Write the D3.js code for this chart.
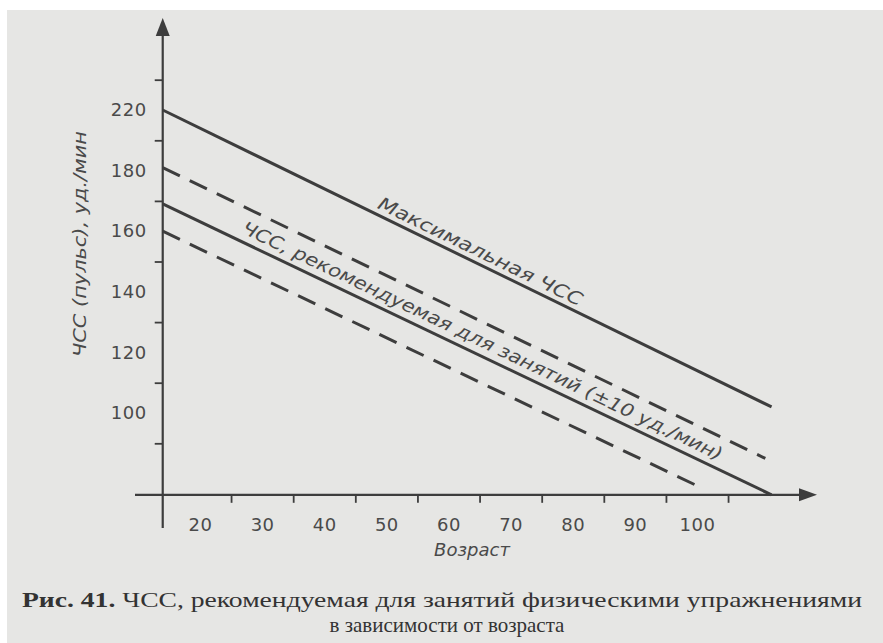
<!DOCTYPE html>
<html>
<head>
<meta charset="utf-8">
<script src="https://cdn.jsdelivr.net/npm/d3@7"></script>
<style>
  body { margin: 0; background: #fff; }
  text { fill: #4a4a4a; }
</style>
</head>
<body>
<svg width="883" height="643"></svg>
<script>
// ages printed under the axis and the small tick marks between them
const ageLabels = [20, 30, 40, 50, 60, 70, 80, 90, 100];
const ageTicks = [25, 35, 45, 55, 65, 75, 85, 95, 105];
// heart rate labels as printed (the book skips 200)
const hrLabelValues = [220, 200, 180, 160, 140, 120];
const hrLabels = ["220", "180", "160", "140", "120", "100"];
const hrTicks = [230, 210, 190, 170, 150, 130, 110];

// lines, [age, bpm]
const maxLine = [[14, 220], [112, 122]];
const upperLine = [[14, 201], [111, 105]];
const recLine = [[14, 189], [112, 93]];
const lowerLine = [[14, 180], [100, 96]];

const svg = d3.select("svg");
const ink = "#3d3d3d";
const sans = "'DejaVu Sans', sans-serif";
const serif = "'Liberation Serif', 'DejaVu Serif', serif";

svg.append("rect")
    .attr("x", 7).attr("y", 10)
    .attr("width", 876).attr("height", 633)
    .attr("fill", "#e6e6e4");

const x = d3.scaleLinear().domain([20, 100]).range([200, 697]);
const y = d3.scaleLinear().domain([220, 120]).range([110, 413]);

const x0 = x(14);
const y0 = y(93);

// axes with arrows
const axes = svg.append("g").attr("stroke", ink).attr("stroke-width", 2.2);
axes.append("line")
    .attr("x1", 135).attr("y1", y0)
    .attr("x2", 802).attr("y2", y0);
axes.append("line")
    .attr("x1", x0).attr("y1", 528)
    .attr("x2", x0).attr("y2", 32);
svg.append("path")
    .attr("d", `M817,${y0} L799,${y0 - 6.5} L799,${y0 + 6.5} Z`)
    .attr("fill", ink);
svg.append("path")
    .attr("d", `M${x0},18 L${x0 - 7},36 L${x0 + 7},36 Z`)
    .attr("fill", ink);

// tick marks
const xTickAxis = svg.append("g")
    .attr("transform", `translate(0, ${y0})`)
    .call(d3.axisBottom(x).tickValues(ageTicks).tickFormat("").tickSizeInner(8).tickSizeOuter(0));
const yTickAxis = svg.append("g")
    .attr("transform", `translate(${x0}, 0)`)
    .call(d3.axisLeft(y).tickValues(hrTicks).tickFormat("").tickSizeInner(8).tickSizeOuter(0));
[xTickAxis, yTickAxis].forEach(a => {
  a.select(".domain").remove();
  a.selectAll("line").attr("stroke", ink).attr("stroke-width", 1.8);
});

// tick labels
const xLab = svg.append("g")
    .attr("transform", `translate(0, ${y0 + 20})`)
    .call(d3.axisBottom(x).tickValues(ageLabels).tickSize(0));
xLab.select(".domain").remove();
xLab.selectAll("text")
    .attr("dy", "0.71em")
    .style("font-family", sans)
    .style("font-size", "18px")
    .style("letter-spacing", "0.5px")
    .style("fill", "#4a4a4a");

const yLab = svg.append("g")
    .attr("transform", `translate(${x0 - 16}, 0)`)
    .call(d3.axisLeft(y).tickValues(hrLabelValues).tickSize(0)
      .tickFormat((d, i) => hrLabels[i]));
yLab.select(".domain").remove();
yLab.selectAll("text")
    .attr("x", 0)
    .style("font-family", sans)
    .style("font-size", "18px")
    .style("letter-spacing", "0.5px")
    .style("fill", "#4a4a4a");

// axis titles
svg.append("text")
    .attr("x", 472).attr("y", 556)
    .attr("text-anchor", "middle")
    .style("font-family", sans)
    .style("font-size", "18px")
    .style("font-style", "italic")
    .text("Возраст");

svg.append("text")
    .attr("transform", "translate(86, 244) rotate(-90)")
    .attr("text-anchor", "middle")
    .attr("textLength", 226)
    .attr("lengthAdjust", "spacingAndGlyphs")
    .style("font-family", sans)
    .style("font-size", "17px")
    .style("font-style", "italic")
    .text("ЧСС (пульс), уд./мин");

// lines
const line = d3.line().x(d => x(d[0])).y(d => y(d[1]));
const lines = [
  { data: maxLine, dash: null },
  { data: upperLine, dash: "19,11" },
  { data: recLine, dash: null },
  { data: lowerLine, dash: "19,11" }
];
svg.append("g").selectAll("path")
  .data(lines)
  .join("path")
    .attr("d", d => line(d.data))
    .attr("fill", "none")
    .attr("stroke", ink)
    .attr("stroke-width", 3)
    .attr("stroke-dasharray", d => d.dash);

// labels along the lines
function lineLabel(data, age, dy, len, txt) {
  const [a, b] = data;
  const ang = Math.atan2(y(b[1]) - y(a[1]), x(b[0]) - x(a[0])) * 180 / Math.PI;
  const t = (age - a[0]) / (b[0] - a[0]);
  const v = a[1] + t * (b[1] - a[1]);
  svg.append("text")
      .attr("transform", `translate(${x(age)}, ${y(v)}) rotate(${ang})`)
      .attr("y", dy)
      .attr("textLength", len)
      .attr("lengthAdjust", "spacingAndGlyphs")
      .style("font-family", sans)
      .style("font-size", "18px")
      .style("font-style", "italic")
      .text(txt);
}
lineLabel(maxLine, 48, -6, 225, "Максимальная ЧСС");
lineLabel(recLine, 26, -8, 530, "ЧСС, рекомендуемая для занятий (±10 уд./мин)");

// caption, first line stretched over the column width
const cap1 = svg.append("text")
    .attr("x", 22).attr("y", 607)
    .attr("textLength", 840)
    .attr("lengthAdjust", "spacingAndGlyphs")
    .style("font-family", serif)
    .style("font-size", "21px")
    .style("fill", "#333");
cap1.append("tspan").style("font-weight", "bold").text("Рис. 41.");
cap1.append("tspan").text(" ЧСС, рекомендуемая для занятий физическими упражнениями");

svg.append("text")
    .attr("x", 447).attr("y", 632)
    .attr("text-anchor", "middle")
    .style("font-family", serif)
    .style("font-size", "21px")
    .style("fill", "#333")
    .text("в зависимости от возраста");
</script>
</body>
</html>
